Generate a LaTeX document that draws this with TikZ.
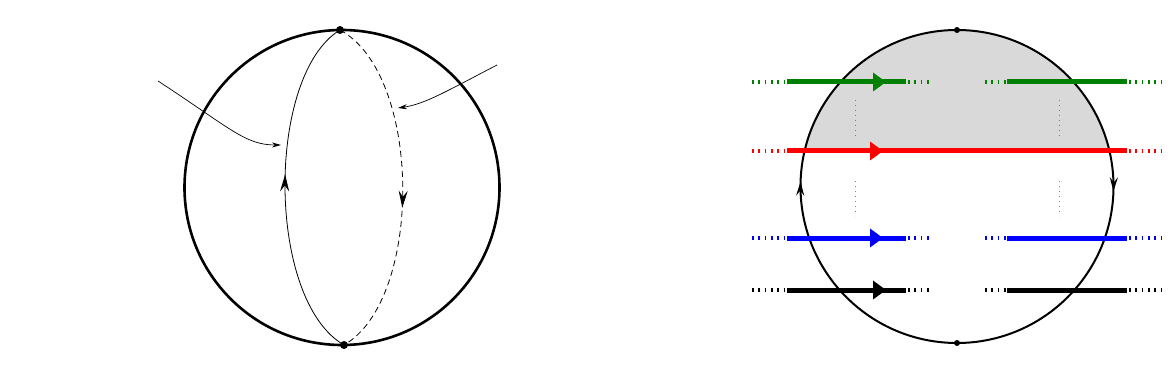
\documentclass[tikz,border=0pt]{standalone}
\usetikzlibrary{arrows.meta,decorations.markings}
\definecolor{dgreen}{RGB}{0,128,0}
\begin{document}
\begin{tikzpicture}[x=1pt,y=-1pt,
  bigcirc/.style={line width=2.6pt},
  thinarc/.style={line width=0.8pt},
  ptr/.style={line width=0.7pt,-{Stealth[length=9pt,width=5pt]}},
  midarrow/.style={postaction={decorate},decoration={markings,mark=at position #1 with {\arrow{Stealth[length=17pt,width=9pt,inset=6pt]}}}},
  smallarrow/.style={postaction={decorate},decoration={markings,mark=at position #1 with {\arrow{Stealth[length=14pt,width=8pt,inset=5pt]}}}},
  solidseg/.style={line width=5pt},
  tickseg/.style={line width=4pt,dash pattern=on 1.6pt off 4.7pt},
  guide/.style={gray,line width=0.8pt,dash pattern=on 0.8pt off 4.2pt},
  dot/.style={circle,fill,inner sep=0pt,minimum size=#1}]
\useasboundingbox (0,0) rectangle (1172,382);
% ---------- left sphere ----------
\draw[bigcirc] (342,187.5) circle (157.5);
\coordinate (T) at (340,30);
\coordinate (B) at (344,345);
\draw[thinarc,midarrow=0.54] (B) .. controls (266,300) and (266,75) .. (T);
\draw[thinarc,dash pattern=on 6pt off 4pt,midarrow=0.56] (T) .. controls (423,75) and (423,300) .. (B);
\node[dot=8pt] (Tn) at (T) {};
\node[dot=8pt] (Bn) at (B) {};
\coordinate (L0) at (158,81);
\coordinate (L1) at (281,145);
\draw[ptr] (L0) .. controls (230,128) and (245,145) .. (L1);
\coordinate (R0) at (497,65);
\coordinate (R1) at (398,108);
\draw[ptr] (R0) .. controls (445,92) and (425,104) .. (R1);
% ---------- right sphere ----------
\coordinate (C) at (957,186.5);
\begin{scope}
  \clip (740,0) rectangle (1172,151);
  \fill[black!15] (C) circle (156.5);
\end{scope}
\coordinate (T2) at (957,30);
\coordinate (B2) at (957,343);
\draw[line width=2pt,smallarrow=0.51] (B2) arc[start angle=90,end angle=270,radius=156.5];
\draw[line width=2pt,smallarrow=0.51] (T2) arc[start angle=270,end angle=450,radius=156.5];
\node[dot=6pt] (T2n) at (T2) {};
\node[dot=6pt] (B2n) at (B2) {};
% guides
\draw[guide] (855,100) -- (855,136);
\draw[guide] (855,181) -- (855,216);
\draw[guide] (1059,100) -- (1059,136);
\draw[guide] (1059,181) -- (1059,216);
% lines
\foreach \c/\y/\t in {dgreen/82/886, blue/238/883, black/290/886}{
  \draw[tickseg,\c] (752,\y) -- (787,\y);
  \draw[solidseg,\c] (787,\y) -- (906,\y);
  \draw[tickseg,\c] (908,\y) -- (930,\y);
  \draw[tickseg,\c] (985,\y) -- (1007,\y);
  \draw[solidseg,\c] (1007,\y) -- (1127,\y);
  \draw[tickseg,\c] (1129,\y) -- (1164,\y);
  \fill[\c] (\t-13,\y-9.5) -- (\t,\y) -- (\t-13,\y+9.5) -- cycle;
}
\draw[tickseg,red] (752,151) -- (787,151);
\draw[solidseg,red] (787,151) -- (1127,151);
\draw[tickseg,red] (1129,151) -- (1164,151);
\fill[red] (870,141.5) -- (883,151) -- (870,160.5) -- cycle;
\end{tikzpicture}
\end{document}
